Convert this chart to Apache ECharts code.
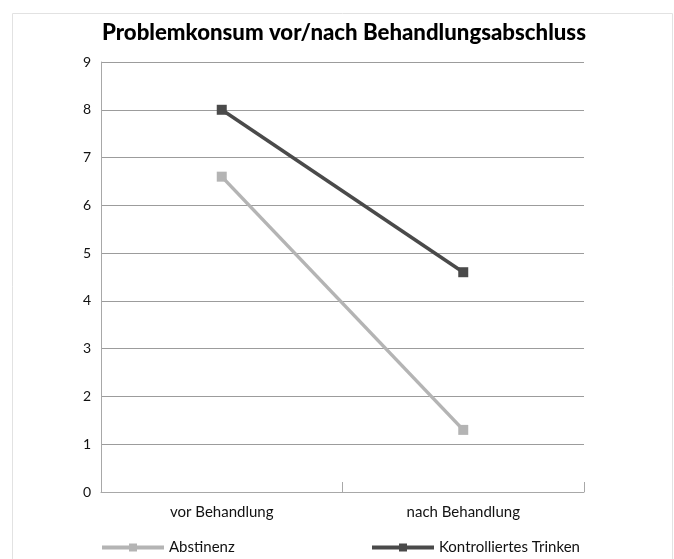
<!DOCTYPE html>
<html>
<head>
<meta charset="utf-8">
<script src="https://cdn.jsdelivr.net/npm/echarts@6/dist/echarts.min.js"></script>
<style>
html,body{margin:0;padding:0;background:#fff;}
#c{width:674px;height:559px;}
</style>
</head>
<body>
<div id="c"></div>
<script>
var titleText = 'Problemkonsum vor/nach Behandlungsabschluss';
var categories = ['vor Behandlung', 'nach Behandlung'];
var seriesNames = ['Abstinenz', 'Kontrolliertes Trinken'];
var abstinenz = [6.6, 1.3];
var kontrolliert = [8.0, 4.6];
var yTicks = [0, 1, 2, 3, 4, 5, 6, 7, 8, 9];

var chart = echarts.init(document.getElementById('c'), null, {renderer: 'canvas'});
var font = 'Lato, "Open Sans", sans-serif';
var legendCommon = {
  top: 540, padding: 0,
  itemWidth: 62, itemHeight: 10, itemGap: 6,
  lineStyle: {width: 4},
  textStyle: {fontFamily: font, fontSize: 15, color: '#111'}
};
chart.setOption({
  backgroundColor: '#ffffff',
  animation: false,
  graphic: [{
    type: 'rect', left: 10, top: 11, silent: true,
    shape: {width: 660, height: 560},
    style: {fill: 'none', stroke: '#e2e2e2', lineWidth: 1}
  }],
  title: {
    text: titleText, left: 102, top: 22, padding: 0,
    textStyle: {fontFamily: font, fontWeight: 900, fontSize: 22.2, color: '#000'}
  },
  legend: [
    Object.assign({data: [seriesNames[0]], left: 100}, legendCommon),
    Object.assign({data: [seriesNames[1]], left: 370}, legendCommon)
  ],
  grid: {left: 101, right: 90, top: 62, bottom: 67, containLabel: false},
  xAxis: {
    type: 'category', data: categories, boundaryGap: true,
    axisLine: {lineStyle: {color: '#a8a8a8', width: 1}},
    axisTick: {show: true, inside: true, length: 10, lineStyle: {color: '#a8a8a8'}},
    axisLabel: {fontFamily: font, fontSize: 15, color: '#111', margin: 13}
  },
  yAxis: {
    type: 'value', min: yTicks[0], max: yTicks[yTicks.length - 1], interval: 1,
    axisLine: {show: true, lineStyle: {color: '#a8a8a8', width: 1}},
    axisTick: {show: false},
    axisLabel: {fontFamily: font, fontSize: 14, color: '#111', margin: 10},
    splitLine: {lineStyle: {color: '#9c9c9c', width: 1}}
  },
  series: [{
    name: seriesNames[0], type: 'line', data: abstinenz,
    symbol: 'rect', symbolSize: 10,
    lineStyle: {color: '#b4b4b4', width: 3.5},
    itemStyle: {color: '#b4b4b4'}
  }, {
    name: seriesNames[1], type: 'line', data: kontrolliert,
    symbol: 'rect', symbolSize: 10,
    lineStyle: {color: '#4a4a4a', width: 3.5},
    itemStyle: {color: '#4a4a4a'}
  }]
});
</script>
</body>
</html>
